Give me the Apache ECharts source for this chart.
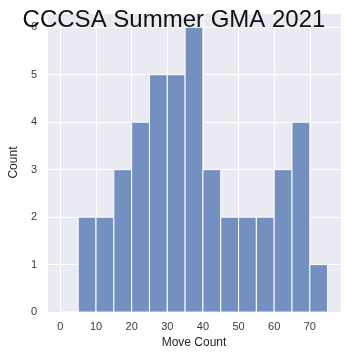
<!DOCTYPE html>
<html><head><meta charset="utf-8">
<script src="https://cdn.jsdelivr.net/npm/echarts@6/dist/echarts.min.js"></script>
<style>html,body{margin:0;padding:0;background:#fff}#c{width:348px;height:354px}</style>
</head><body><div id="c"></div>
<script>
const binStarts = [0,5,10,15,20,25,30,35,40,45,50,55,60,65,70];
const binWidth = 5;
const counts = [0,2,2,3,4,5,5,6,3,2,2,2,3,4,1];
const titleText = 'CCCSA Summer GMA 2021';
const xName = 'Move Count';
const yName = 'Count';

const data = binStarts.map((s,i)=>[s, s+binWidth, counts[i]]);
const chart = echarts.init(document.getElementById('c'));
const font = 'Liberation Sans, Arial, sans-serif';
chart.setOption({
  animation:false,
  backgroundColor:'#ffffff',
  title:{text:titleText,left:'center',top:3,textStyle:{fontFamily:font,fontSize:24,fontWeight:'normal',color:'#111'}},
  grid:{left:38,right:7,top:13,bottom:40,show:true,backgroundColor:'#EAEAF2',borderWidth:0},
  xAxis:{type:'value',min:-3.75,max:78.75,splitNumber:8,
    name:xName,nameLocation:'middle',nameGap:21,nameTextStyle:{fontFamily:font,fontSize:12,color:'#262626'},
    axisLine:{show:false},axisTick:{show:false},
    axisLabel:{fontFamily:font,fontSize:11,color:'#3a3a3a',margin:9,showMinLabel:false,showMaxLabel:false,
      formatter:v=> (Math.abs(v%10)<1e-9? String(v):'')},
    splitLine:{show:true,lineStyle:{color:'#ffffff',width:1}}},
  yAxis:{type:'value',min:0,max:6.3,interval:1,
    name:yName,nameLocation:'middle',nameGap:21,nameTextStyle:{fontFamily:font,fontSize:12,color:'#262626'},
    axisLine:{show:false},axisTick:{show:false},
    axisLabel:{fontFamily:font,fontSize:11,color:'#3a3a3a',margin:10,showMaxLabel:false,
      formatter:v=> (Math.abs(v-Math.round(v))<1e-9? String(v):'')},
    splitLine:{show:true,lineStyle:{color:'#ffffff',width:1}}},
  series:[{type:'custom',data:data,encode:{x:[0,1],y:2},
    renderItem:(params,api)=>{
      const p0=api.coord([api.value(0),api.value(2)]);
      const p1=api.coord([api.value(1),0]);
      return {type:'rect',shape:{x:p0[0],y:p0[1],width:p1[0]-p0[0],height:p1[1]-p0[1]},
        style:{fill:'#7490C0',stroke:'#ffffff',lineWidth:1}};
    }}]
});
</script></body></html>
